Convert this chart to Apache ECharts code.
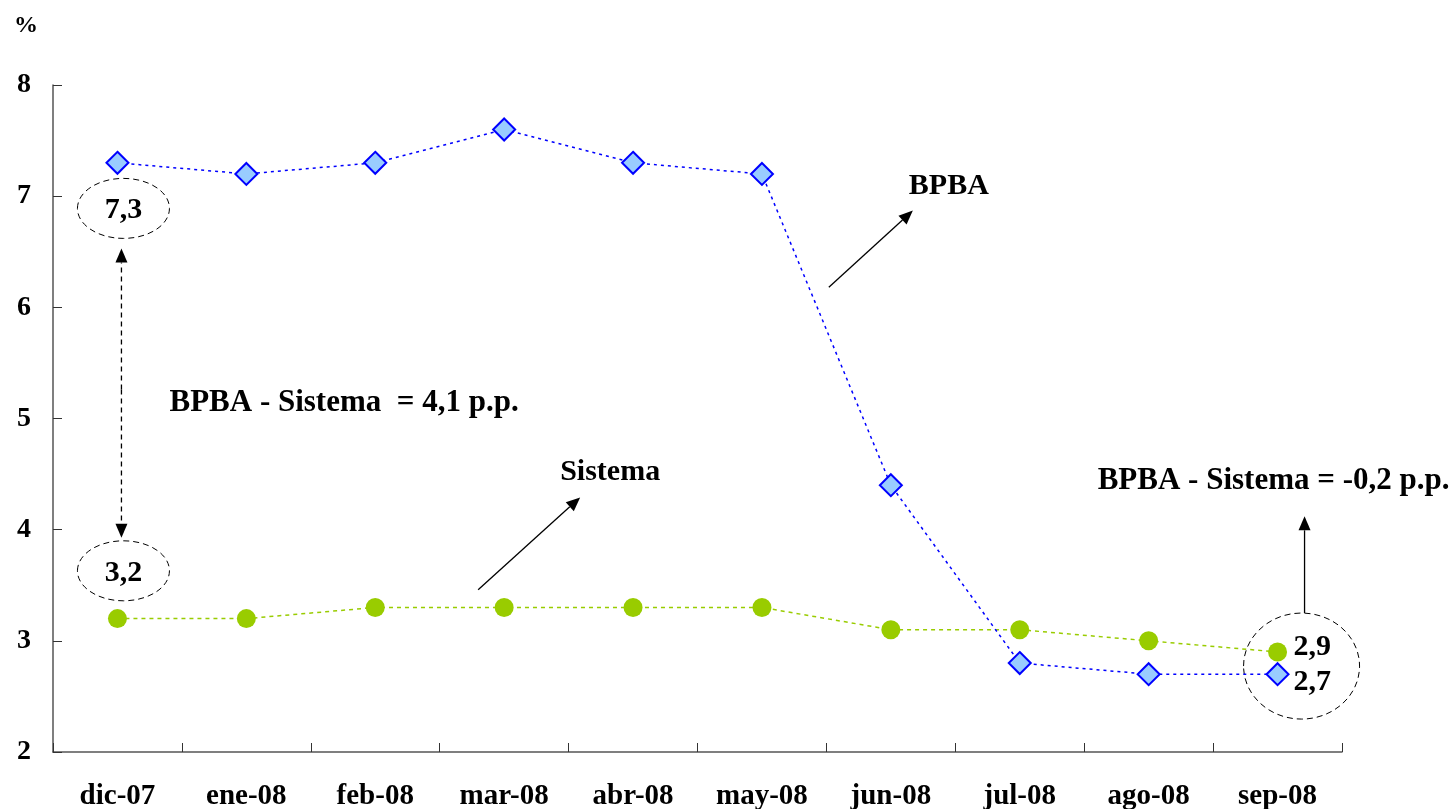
<!DOCTYPE html>
<html><head><meta charset="utf-8">
<script src="https://cdn.jsdelivr.net/npm/echarts@6/dist/echarts.min.js"></script>
<style>html,body{margin:0;padding:0;background:#fff}#c{width:1452px;height:809px}</style>
</head><body><div id="c"></div>
<script>
const categories = ['dic-07','ene-08','feb-08','mar-08','abr-08','may-08','jun-08','jul-08','ago-08','sep-08'];
const bpba = [7.3, 7.2, 7.3, 7.6, 7.3, 7.2, 4.4, 2.8, 2.7, 2.7];
const sistema = [3.2, 3.2, 3.3, 3.3, 3.3, 3.3, 3.1, 3.1, 3.0, 2.9];
const yTicks = [2, 3, 4, 5, 6, 7, 8];

const FONT = '"Liberation Serif", "Times New Roman", serif';
const chart = echarts.init(document.getElementById('c'));
const option = {
  animation: false,
  backgroundColor: '#fff',
  grid: {left: 53, right: 110, top: 85, bottom: 57, containLabel: false, outerBoundsMode: 'none'},
  xAxis: {
    type: 'category', data: categories, boundaryGap: true,
    axisLine: {lineStyle: {color: '#555', width: 1.5}},
    axisTick: {show: true, inside: true, interval: 0, length: 9, lineStyle: {color: '#333', width: 1}},
    axisLabel: {fontFamily: FONT, fontWeight: 'bold', fontSize: 29, color: '#000', margin: 30}
  },
  yAxis: {
    type: 'value', min: yTicks[0], max: yTicks[yTicks.length-1], interval: 1,
    axisLine: {show: true, lineStyle: {color: '#555', width: 1.5}},
    axisTick: {show: true, inside: true, length: 9, lineStyle: {color: '#333'}},
    splitLine: {show: false},
    axisLabel: {fontFamily: FONT, fontWeight: 'bold', fontSize: 28, color: '#000', margin: 22}
  },
  series: [
    {name: 'Sistema', type: 'line', data: sistema, symbol: 'circle', symbolSize: 19,
     itemStyle: {color: '#99CC00'},
     lineStyle: {color: '#99CC00', width: 1.5, type: [4, 4]}, z: 2},
    {name: 'BPBA', type: 'line', data: bpba, symbol: 'diamond', symbolSize: [22, 22],
     itemStyle: {color: '#99CCFF', borderColor: '#0000FF', borderWidth: 2},
     lineStyle: {color: '#0000FF', width: 1.5, type: [3, 4]}, z: 3}
  ]
};
chart.setOption(option);

function px(ci, v) { return chart.convertToPixel({gridIndex: 0}, [ci, v]); }
const unit = px(0, 2)[1] - px(0, 3)[1];
const txt = (x, y, s, size, align) => ({type: 'text', x, y, style: {text: s, fontFamily: FONT, fontWeight: 'bold', fontSize: size, fill: '#000', align: align || 'center', verticalAlign: 'middle'}});
const ell = (cx, cy, rx, ry) => ({type: 'ellipse', shape: {cx, cy, rx, ry}, style: {fill: 'none', stroke: '#000', lineWidth: 1, lineDash: [6, 4]}});
function arrow(x1, y1, x2, y2, dash) {
  const a = Math.atan2(y2 - y1, x2 - x1), L = 14, W = 6;
  const bx = x2 - L * Math.cos(a), by = y2 - L * Math.sin(a);
  const nx = -Math.sin(a) * W, ny = Math.cos(a) * W;
  return [
    {type: 'line', shape: {x1, y1, x2: bx, y2: by}, style: {stroke: '#000', lineWidth: 1.3, lineDash: dash || null}},
    {type: 'polygon', shape: {points: [[x2, y2], [bx + nx, by + ny], [bx - nx, by - ny]]}, style: {fill: '#000'}}
  ];
}
const p0 = px(0, 7.3), p0b = px(0, 3.2), p9 = px(9, 2.8);
const ax = p0[0] + 4;
const e1y = p0[1] + 0.41 * unit, e2y = p0b[1] - 0.43 * unit;
const g = [];
g.push(txt(26, 26, '%', 24));
g.push(ell(p0[0] + 6, e1y, 46, 30), txt(p0[0] + 6, e1y + 2, '7,3', 30));
g.push(ell(p0[0] + 6, e2y, 46, 30), txt(p0[0] + 6, e2y + 2, '3,2', 30));
g.push(...arrow(ax, (e1y + e2y) / 2, ax, e1y + 40, [5, 4]), ...arrow(ax, (e1y + e2y) / 2, ax, e2y - 33, [5, 4]));
g.push(txt(p0[0] + 52, px(0, 5.14)[1], 'BPBA - Sistema  = 4,1 p.p.', 31, 'left'));
const s1 = px(3, 4.52);
g.push(txt(s1[0] + 106, s1[1], 'Sistema', 30));
g.push(...arrow(s1[0] - 26, px(0, 3.46)[1], s1[0] + 76, px(0, 4.29)[1]));
const b1 = px(6, 7.09);
g.push(txt(b1[0] + 58, b1[1], 'BPBA', 30));
g.push(...arrow(b1[0] - 62, px(0, 6.18)[1], b1[0] + 22, px(0, 6.87)[1]));
g.push(ell(p9[0] + 24, p9[1] + 3, 58, 53));
g.push(txt(p9[0] + 16, px(0, 2.94)[1], '2,9', 30, 'left'));
g.push(txt(p9[0] + 16, px(0, 2.63)[1], '2,7', 30, 'left'));
g.push(...arrow(p9[0] + 27, p9[1] - 50, p9[0] + 27, px(0, 4.12)[1]));
g.push(txt(p9[0] - 4, px(0, 4.44)[1], 'BPBA - Sistema = -0,2 p.p.', 31));
chart.setOption({graphic: g});
</script></body></html>
